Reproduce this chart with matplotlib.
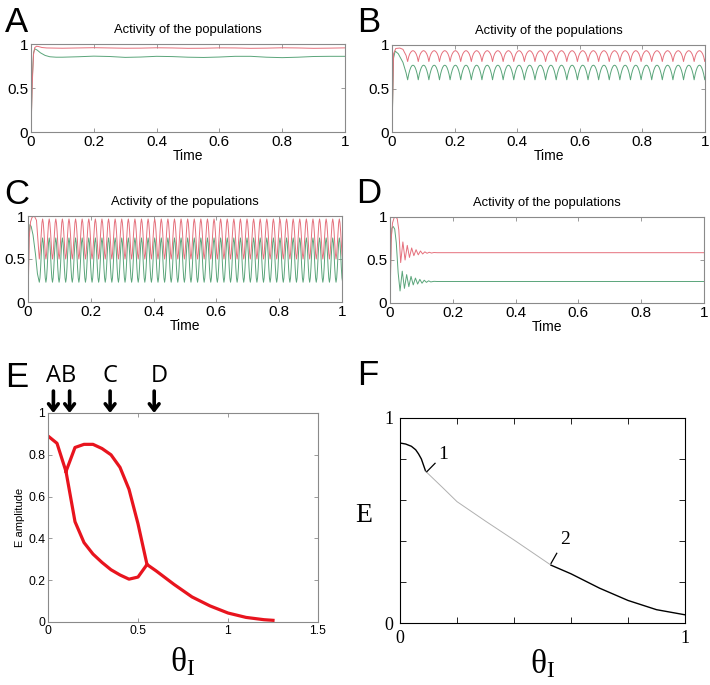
import numpy as np
import matplotlib
matplotlib.use('Agg')
import matplotlib.pyplot as plt

plt.rcParams['font.family'] = ['Liberation Sans', 'DejaVu Sans']
plt.rcParams['mathtext.fontset'] = 'custom'
plt.rcParams['mathtext.rm'] = 'Liberation Serif'
plt.rcParams['mathtext.it'] = 'Liberation Serif:italic'

# ---- panel A: explicit traces (time, activity)
A_red_t = [0, 0.004, 0.008, 0.012, 0.018, 0.025, 0.035, 0.05, 0.1, 0.15, 0.2, 0.25, 0.3, 0.35,
           0.4, 0.45, 0.5, 0.55, 0.6, 0.65, 0.7, 0.75, 0.8, 0.85, 0.9, 0.95, 1.0]
A_red_v = [0, 0.55, 0.88, 0.96, 0.975, 0.97, 0.96, 0.955, 0.952, 0.955, 0.958, 0.955, 0.952, 0.953,
           0.957, 0.955, 0.951, 0.952, 0.956, 0.955, 0.951, 0.953, 0.957, 0.955, 0.951, 0.953, 0.956]
A_grn_t = [0, 0.004, 0.008, 0.012, 0.02, 0.03, 0.045, 0.06, 0.08, 0.1, 0.15, 0.2, 0.25, 0.3, 0.35,
           0.4, 0.45, 0.5, 0.55, 0.6, 0.65, 0.7, 0.75, 0.8, 0.85, 0.9, 0.95, 1.0]
A_grn_v = [0, 0.6, 0.9, 0.945, 0.93, 0.9, 0.87, 0.855, 0.85, 0.85, 0.855, 0.862, 0.858, 0.848, 0.852,
           0.86, 0.857, 0.85, 0.847, 0.852, 0.86, 0.86, 0.85, 0.845, 0.85, 0.858, 0.86, 0.86]

# ---- panel B: onset transient, then one repeated cycle (trough to trough)
B_t0, B_period = 0.05, 0.0339
B_red_on_t = [0, 0.005, 0.012, 0.025, 0.035, 0.045]
B_red_on_v = [0, 0.9, 0.96, 0.965, 0.95, 0.88]
B_grn_on_t = [0, 0.005, 0.01, 0.02, 0.035, 0.045]
B_grn_on_v = [0, 0.85, 0.93, 0.9, 0.8, 0.68]
B_red_cycle = [0.81, 0.865, 0.898, 0.918, 0.93, 0.935, 0.93, 0.918, 0.898, 0.865, 0.81]
B_grn_cycle = [0.6, 0.665, 0.71, 0.743, 0.762, 0.768, 0.762, 0.743, 0.71, 0.665, 0.6]

# ---- panel C
C_t0, C_period = 0.036, 0.021
C_red_on_t = [0, 0.004, 0.008, 0.013, 0.02, 0.027, 0.032]
C_red_on_v = [0, 0.75, 0.93, 0.985, 1.0, 0.95, 0.7]
C_grn_on_t = [0, 0.003, 0.006, 0.01, 0.016, 0.024, 0.03]
C_grn_on_v = [0, 0.75, 0.9, 0.88, 0.78, 0.55, 0.33]
C_red_cycle = [0.5, 0.56, 0.68, 0.82, 0.92, 0.965, 0.92, 0.82, 0.68, 0.56, 0.5]
C_grn_cycle = [0.23, 0.28, 0.4, 0.56, 0.69, 0.745, 0.69, 0.56, 0.4, 0.28, 0.23]

# ---- panel D: damped oscillation
D_red_t = [0, 0.004, 0.008, 0.013, 0.018, 0.023, 0.028, 0.034, 0.041, 0.048, 0.055, 0.062, 0.069,
           0.076, 0.083, 0.090, 0.097, 0.104, 0.111, 0.118, 0.125, 0.132, 0.14, 0.15, 1.0]
D_red_v = [0, 0.75, 0.93, 0.99, 1.0, 0.98, 0.85, 0.47, 0.71, 0.5, 0.67, 0.53, 0.64,
           0.55, 0.62, 0.56, 0.605, 0.57, 0.595, 0.578, 0.59, 0.581, 0.587, 0.585, 0.585]
D_grn_t = [0, 0.003, 0.006, 0.01, 0.015, 0.02, 0.026, 0.032, 0.039, 0.046, 0.053, 0.060, 0.067,
           0.074, 0.081, 0.088, 0.095, 0.102, 0.109, 0.116, 0.123, 0.13, 0.14, 0.15, 1.0]
D_grn_v = [0, 0.7, 0.87, 0.89, 0.86, 0.7, 0.35, 0.14, 0.37, 0.17, 0.33, 0.19, 0.31,
           0.21, 0.29, 0.22, 0.275, 0.23, 0.265, 0.24, 0.258, 0.245, 0.252, 0.25, 0.25]

# ---- panel E: amplitude vs theta_I
E_pre_x = [0, 0.05, 0.1]
E_pre_y = [0.89, 0.855, 0.72]
E_branch_x = [0.1, 0.15, 0.2, 0.25, 0.3, 0.35, 0.4, 0.45, 0.5, 0.55]
E_upper_y = [0.72, 0.835, 0.85, 0.85, 0.83, 0.80, 0.74, 0.635, 0.47, 0.275]
E_lower_y = [0.72, 0.48, 0.38, 0.325, 0.285, 0.25, 0.225, 0.205, 0.215, 0.275]
E_tail_x = [0.55, 0.6, 0.7, 0.8, 0.9, 1.0, 1.1, 1.2, 1.25]
E_tail_y = [0.275, 0.245, 0.18, 0.12, 0.077, 0.043, 0.022, 0.011, 0.008]
E_marks = ['A', 'B', 'C', 'D']
E_marks_x = [0.03, 0.12, 0.345, 0.59]

# ---- panel F: fixed point branch
F_s1_x = [0, 0.02, 0.04, 0.055, 0.065, 0.075, 0.085, 0.09]
F_s1_y = [0.878, 0.873, 0.862, 0.845, 0.825, 0.80, 0.76, 0.74]
F_u_x = [0.09, 0.15, 0.2, 0.3, 0.4, 0.53]
F_u_y = [0.74, 0.66, 0.592, 0.497, 0.405, 0.282]
F_s2_x = [0.53, 0.6, 0.7, 0.8, 0.9, 1.0]
F_s2_y = [0.282, 0.24, 0.17, 0.11, 0.065, 0.04]

RED = '#e5707c'
GRN = '#5aa57a'
GRAY = '#8a8a8a'
W, H = 710, 685


def box(l, t, r, b):
    return [l / W, 1 - b / H, (r - l) / W, (b - t) / H]


def tiled(t0, period, cycle):
    n = int(np.ceil((1.0 - t0) / period))
    ph = np.linspace(0, 1, len(cycle))[:-1]
    t = t0 + period * (np.arange(n)[:, None] + ph[None, :]).ravel()
    v = np.tile(cycle[:-1], n)
    return np.append(t, t0 + n * period), np.append(v, cycle[-1])


def matlab_axes(ax, fs):
    for s in ax.spines.values():
        s.set_color(GRAY)
        s.set_linewidth(0.8)
    ax.tick_params(direction='in', top=True, right=True, length=3, width=0.6,
                   color=GRAY, labelsize=fs, pad=2)


fig = plt.figure(figsize=(W / 100, H / 100), dpi=100)

boxes = {'A': box(31, 44, 345, 132), 'B': box(392, 45, 705, 132),
         'C': box(28, 216, 342, 302), 'D': box(390, 217, 704, 303)}
traces = {}
for k, (t0, per, ron_t, ron_v, gon_t, gon_v, rc, gc) in {
        'B': (B_t0, B_period, B_red_on_t, B_red_on_v, B_grn_on_t, B_grn_on_v, B_red_cycle, B_grn_cycle),
        'C': (C_t0, C_period, C_red_on_t, C_red_on_v, C_grn_on_t, C_grn_on_v, C_red_cycle, C_grn_cycle)}.items():
    rt, rv = tiled(t0, per, rc)
    gt, gv = tiled(t0, per, gc)
    traces[k] = (np.r_[ron_t, rt], np.r_[ron_v, rv], np.r_[gon_t, gt], np.r_[gon_v, gv])
traces['A'] = (A_red_t, A_red_v, A_grn_t, A_grn_v)
traces['D'] = (D_red_t, D_red_v, D_grn_t, D_grn_v)

for k in 'ABCD':
    ax = fig.add_axes(boxes[k])
    rt, rv, gt, gv = traces[k]
    ax.plot(gt, gv, color=GRN, lw=0.7)
    ax.plot(rt, rv, color=RED, lw=0.7)
    ax.set_xlim(0, 1)
    ax.set_ylim(0, 1)
    ax.set_xticks([0, 0.2, 0.4, 0.6, 0.8, 1])
    ax.set_xticklabels(['0', '0.2', '0.4', '0.6', '0.8', '1'])
    ax.set_yticks([0, 0.5, 1])
    ax.set_yticklabels(['0', '0.5', '1'])
    matlab_axes(ax, 11)
    ax.set_title('Activity of the populations', fontsize=9.4, pad=8)
    ax.set_xlabel('Time', fontsize=10, labelpad=0)

# ---- E
axE = fig.add_axes(box(48, 413, 318, 622))
axE.plot(E_pre_x, E_pre_y, color='#e8141e', lw=2.3, solid_joinstyle='round')
axE.plot(E_branch_x, E_upper_y, color='#e8141e', lw=2.3, solid_joinstyle='round')
axE.plot(E_branch_x, E_lower_y, color='#e8141e', lw=2.3, solid_joinstyle='round')
axE.plot(E_tail_x, E_tail_y, color='#e8141e', lw=2.3, solid_joinstyle='round')
axE.set_xlim(0, 1.5)
axE.set_ylim(0, 1)
axE.set_xticks([0, 0.5, 1, 1.5])
axE.set_xticklabels(['0', '0.5', '1', '1.5'])
axE.set_yticks([0, 0.2, 0.4, 0.6, 0.8, 1])
axE.set_yticklabels(['0', '0.2', '0.4', '0.6', '0.8', '1'])
matlab_axes(axE, 8.8)
axE.set_ylabel('E amplitude', fontsize=8, labelpad=2)
axE.set_xlabel(r'$\mathrm{\theta_I}$', fontsize=24, labelpad=6)
for m, x in zip(E_marks, E_marks_x):
    axE.annotate('', xy=(x, 1.0), xytext=(x, 1.105), annotation_clip=False,
                 arrowprops=dict(arrowstyle='->,head_width=0.35,head_length=0.45',
                                 lw=2.6, color='black', shrinkA=0, shrinkB=0))
axE.text(0.072, 1.12, 'AB', fontsize=17, ha='center', va='bottom', family='Open Sans')
axE.text(E_marks_x[2], 1.12, 'C', fontsize=17, ha='center', va='bottom', family='Open Sans')
axE.text(0.62, 1.12, 'D', fontsize=17, ha='center', va='bottom', family='Open Sans')

# ---- F
axF = fig.add_axes(box(400, 418, 685, 623))
axF.plot(F_s1_x, F_s1_y, color='black', lw=1.0)
axF.plot(F_u_x, F_u_y, color='#b0b0b0', lw=0.7)
axF.plot(F_s2_x, F_s2_y, color='black', lw=1.0)
axF.set_xlim(0, 1)
axF.set_ylim(0, 1)
ticks = [0, 0.2, 0.4, 0.6, 0.8, 1]
axF.set_xticks(ticks)
axF.set_yticks(ticks)
axF.set_xticklabels(['0', '', '', '', '', '1'], family='Liberation Serif')
axF.set_yticklabels(['0', '', '', '', '', '1'], family='Liberation Serif')
for s in axF.spines.values():
    s.set_linewidth(0.8)
axF.tick_params(direction='in', top=True, right=True, length=4, width=0.6, labelsize=13, pad=5)
axF.set_xlabel(r'$\mathrm{\theta_I}$', fontsize=24, labelpad=0)
axF.plot([0.094, 0.123], [0.738, 0.779], color='black', lw=0.9)
axF.plot([0.53, 0.55], [0.291, 0.34], color='black', lw=0.9)
axF.text(0.151, 0.78, '1', fontsize=14, family='Liberation Serif', ha='center', va='bottom')
axF.text(0.58, 0.365, '2', fontsize=14, family='Liberation Serif', ha='center', va='bottom')
fig.text(364 / W, 1 - 515 / H, 'E', fontsize=20, family='Liberation Serif', ha='center', va='center')

# ---- panel letters
for lab, x, y in [('A', 5, 32), ('B', 357, 32), ('C', 4, 204), ('D', 356, 203),
                  ('E', 5, 387), ('F', 357, 385)]:
    fig.text(x / W, 1 - y / H, lab, fontsize=25, va='baseline', ha='left')

fig.savefig('out.png', dpi=100)
